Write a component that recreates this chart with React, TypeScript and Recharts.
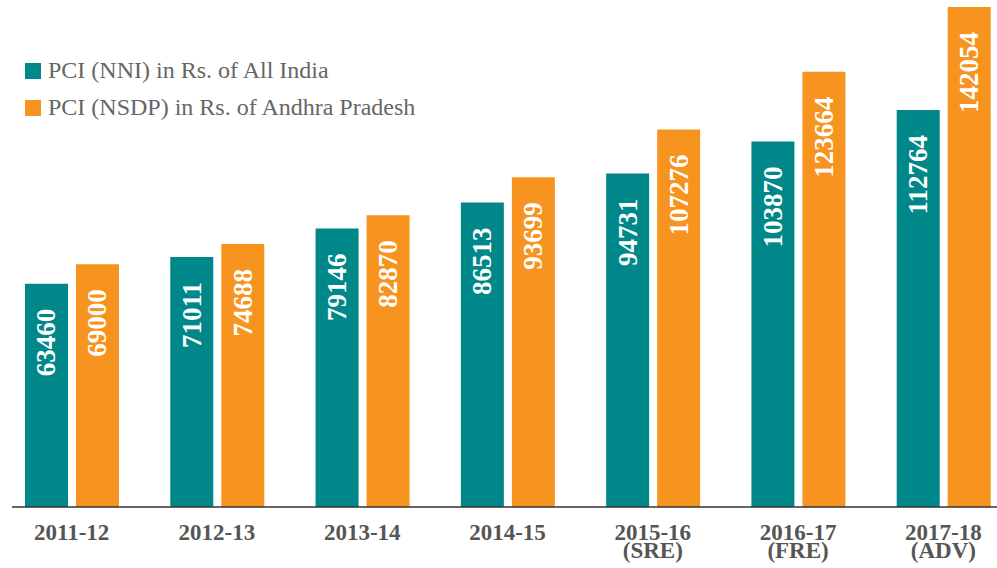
import { BarChart, Bar, XAxis, YAxis, Legend, LabelList } from 'recharts';

// Per capita income, All India vs Andhra Pradesh
const years = ['2011-12', '2012-13', '2013-14', '2014-15', '2015-16', '2016-17', '2017-18'];
const yearNotes = ['', '', '', '', '(SRE)', '(FRE)', '(ADV)'];
const indiaPci = [63460, 71011, 79146, 86513, 94731, 103870, 112764];
const apPci = [69000, 74688, 82870, 93699, 107276, 123664, 142054];

const TEAL = '#00878A';
const ORANGE = '#F7931F';
const SERIF = '"Liberation Serif", "Times New Roman", serif';

const data = years.map((year, i) => ({
  year,
  note: yearNotes[i],
  india: indiaPci[i],
  ap: apPci[i],
}));

function BarValue(props: any) {
  const { x, y, width, value } = props;
  const cx = x + width / 2;
  const cy = y + 25;
  return (
    <text
      x={cx}
      y={cy}
      transform={`rotate(-90 ${cx} ${cy})`}
      textAnchor="end"
      dominantBaseline="central"
      fill="#fff"
      fontFamily={SERIF}
      fontWeight="bold"
      fontSize={27}
    >
      {value}
    </text>
  );
}

function YearTick(props: any) {
  const { x, y, payload } = props;
  const note = yearNotes[payload.index];
  return (
    <text
      x={x}
      y={y}
      textAnchor="middle"
      fill="#555"
      fontFamily={SERIF}
      fontWeight="bold"
      fontSize={23}
    >
      <tspan x={x} dy={25}>{payload.value}</tspan>
      {note && <tspan x={x} dy={18}>{note}</tspan>}
    </text>
  );
}

function LegendBox({ payload }: any) {
  return (
    <div style={{ fontFamily: SERIF, fontSize: 24, color: '#666', textAlign: 'left' }}>
      {payload.map((item: any) => (
        <div key={item.value} style={{ display: 'flex', alignItems: 'center', height: 37 }}>
          <span style={{ width: 16, height: 16, background: item.color, marginRight: 7 }} />
          <span>{item.value}</span>
        </div>
      ))}
    </div>
  );
}

export default function App() {
  return (
    <div style={{ position: 'absolute', left: 0, top: 0, width: 997, height: 568, background: '#fff' }}>
      <BarChart
        width={997}
        height={568}
        data={data}
        margin={{ top: 7, right: 0, left: 12, bottom: 0 }}
        barSize={43}
        barGap={8}
      >
        <XAxis
          dataKey="year"
          padding={{ left: -13, right: -19 }}
          height={61}
          tickLine={false}
          axisLine={{ stroke: '#333', strokeWidth: 1.5 }}
          tick={<YearTick />}
          interval={0}
        />
        <YAxis hide domain={[0, 'dataMax']} />
        <Legend
          layout="vertical"
          verticalAlign="middle"
          align="center"
          content={<LegendBox />}
          wrapperStyle={{ top: 52, left: 25, width: 450 }}
        />
        <Bar dataKey="india" name="PCI (NNI) in Rs. of All India" fill={TEAL} isAnimationActive={false}>
          <LabelList dataKey="india" content={<BarValue />} />
        </Bar>
        <Bar dataKey="ap" name="PCI (NSDP) in Rs. of Andhra Pradesh" fill={ORANGE} isAnimationActive={false}>
          <LabelList dataKey="ap" content={<BarValue />} />
        </Bar>
      </BarChart>
    </div>
  );
}
